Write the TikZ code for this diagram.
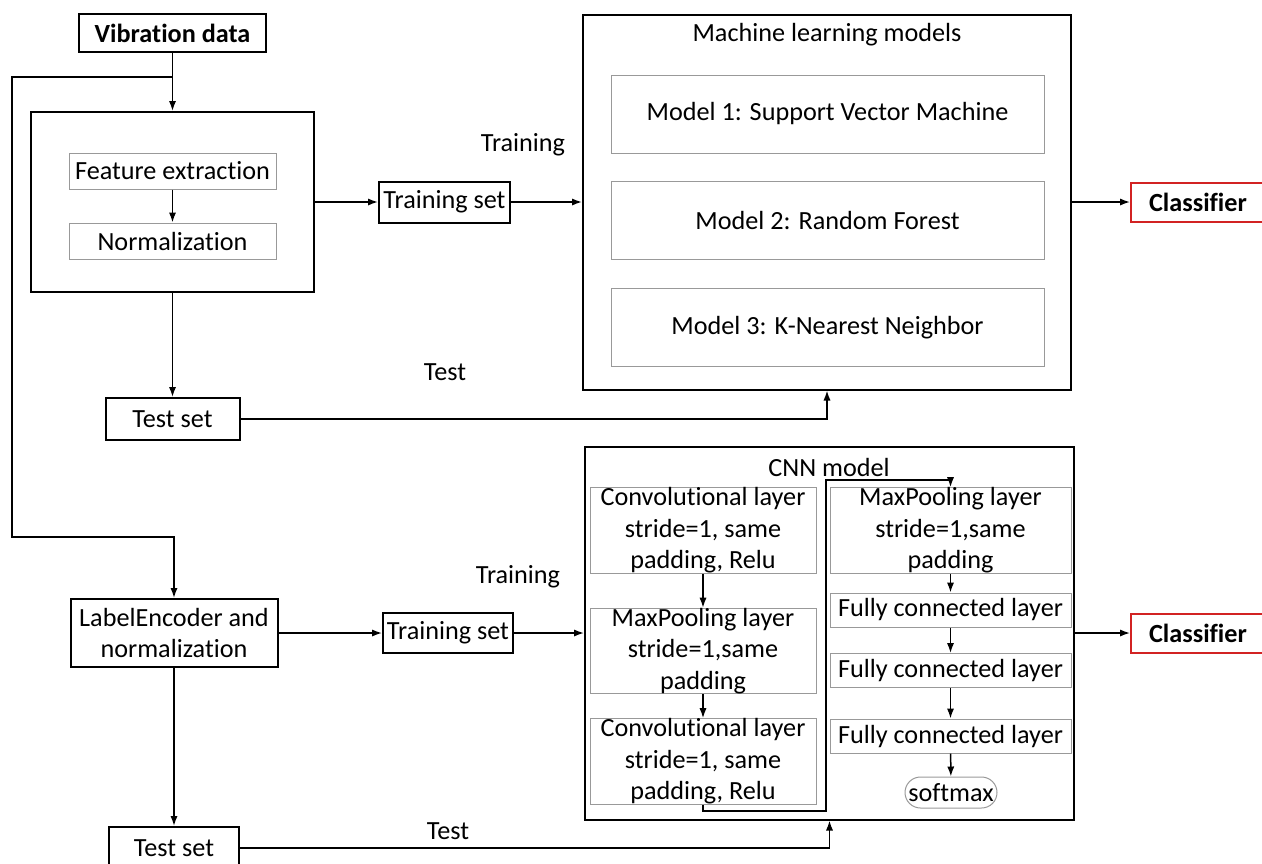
\documentclass[tikz,border=0pt]{standalone}
\usepackage{fontspec}
\setmainfont{Carlito}[Ligatures=NoCommon]
\usetikzlibrary{arrows.meta,positioning,calc}
\definecolor{clsred}{RGB}{210,35,35}

\begin{document}
\begin{tikzpicture}[
    x=0.5pt, y=-0.5pt,
    font=\fontsize{13.1}{15.75}\selectfont,
    box/.style={draw, line width=1pt, rectangle, inner sep=0pt, align=center},
    stage/.style={draw=black!40, line width=0.5pt, rectangle, inner sep=0pt, align=center},
    panel/.style={draw, line width=1pt, rectangle, inner sep=0pt},
    result/.style={draw=clsred, line width=1pt, rectangle, inner sep=0pt, minimum width=67pt, minimum height=19.5pt},
    arrow/.style={-{Latex[length=5pt,width=3.6pt]}, line width=0.75pt}
]
\useasboundingbox (0,0) rectangle (1262,863);

% Preprocessing side
\node[box, minimum width=93.5pt, minimum height=19pt] (vib) at (172.5,33) {\textbf{Vibration data}};
\node[panel, minimum width=141.5pt, minimum height=90pt] (prep) at (172.5,202) {};
\node[stage, minimum width=103.5pt, minimum height=18pt] (feat) at (172.5,171) {Feature extraction};
\node[stage, minimum width=103.5pt, minimum height=18pt] (norm) at (172.5,241) {Normalization};
\node[box, minimum width=67pt, minimum height=21pt] (test1) at (172.5,419) {Test set};
\node[box, minimum width=65.5pt, minimum height=20.5pt] (train1) at (444.5,202) {Training set};
\node (trainlbl1) at (523,145) {Training};
\node (testlbl1) at (445,372) {Test};

% Machine learning models
\node[panel, minimum width=244pt, minimum height=187.5pt] (ml) at (827,202) {};
\node (mltitle) at (827,35) {Machine learning models};
\node[stage, minimum width=216.5pt, minimum height=39pt] (m1) at (827.5,114) {Model 1: Support Vector Machine};
\node[stage, minimum width=216.5pt, minimum height=39pt] (m2) at (827.5,220.5) {Model 2: Random Forest};
\node[stage, minimum width=216.5pt, minimum height=39pt] (m3) at (827.5,327.5) {Model 3: K-Nearest Neighbor};
\node[result] (cls1) at (1198,202) {\textbf{Classifier}};

\draw[arrow] (vib) -- (prep);
\draw[arrow] (feat) -- (norm);
\draw[arrow] (prep) -- (test1);
\draw[arrow] (prep) -- (train1);
\draw[arrow] (train1) -- (ml);
\draw[arrow] (test1) -| (ml);
\draw[arrow] (ml) -- (cls1);

% CNN side
\node[box, minimum width=103.5pt, minimum height=34pt] (enc) at (174,633) {LabelEncoder and\\normalization};
\node[box, minimum width=65pt, minimum height=21pt] (test2) at (174,848) {Test set};
\node[box, minimum width=65pt, minimum height=20pt] (train2) at (448,633) {Training set};
\node (trainlbl2) at (518,577) {Training};
\node (testlbl2) at (448,831) {Test};

\node[panel, minimum width=244.5pt, minimum height=186.5pt] (cnn) at (829.5,633) {};
\node (cnntitle) at (829,467) {CNN model};
\node[stage, minimum width=113pt, minimum height=41.5pt] (conv1) at (703,530.5) {Convolutional layer\\stride=1, same\\padding, Relu};
\node[stage, minimum width=113pt, minimum height=41.5pt] (pool1) at (703,651) {MaxPooling layer\\stride=1,same\\padding};
\node[stage, minimum width=113pt, minimum height=41.5pt] (conv2) at (703,761.5) {Convolutional layer\\stride=1, same\\padding, Relu};
\node[stage, minimum width=120.5pt, minimum height=41.5pt] (pool2) at (950.5,530.5) {MaxPooling layer\\stride=1,same\\padding};
\node[stage, minimum width=120.5pt, minimum height=17pt] (fc1) at (950.5,610) {Fully connected layer};
\node[stage, minimum width=120.5pt, minimum height=17pt] (fc2) at (950.5,670.5) {Fully connected layer};
\node[stage, minimum width=120.5pt, minimum height=17pt] (fc3) at (950.5,736) {Fully connected layer};
\node[stage, rounded corners=7.75pt, minimum width=46pt, minimum height=15.5pt] (soft) at (951,792.5) {softmax};
\node[result] (cls2) at (1198,633) {\textbf{Classifier}};

\coordinate (cnnlow) at (826,811);
\coordinate (cnnhigh) at (826,480);
\draw[arrow] (conv1) -- (pool1);
\draw[arrow] (pool1) -- (conv2);
\draw[arrow] (conv2.south) |- (cnnlow) -- (cnnhigh) -| (pool2.north);
\draw[arrow] (pool2) -- (fc1);
\draw[arrow] (fc1) -- (fc2);
\draw[arrow] (fc2) -- (fc3);
\draw[arrow] (fc3) -- (soft);

% Vibration data branch
\coordinate (split) at (172.5,77);
\coordinate (bend) at (12,537);
\draw[arrow] (split) -| (bend) -| (enc.north);

\draw[arrow] (enc) -- (test2);
\draw[arrow] (enc) -- (train2);
\draw[arrow] (train2) -- (cnn);
\draw[arrow] (test2) -| (cnn);
\draw[arrow] (cnn) -- (cls2);

\end{tikzpicture}
\end{document}
